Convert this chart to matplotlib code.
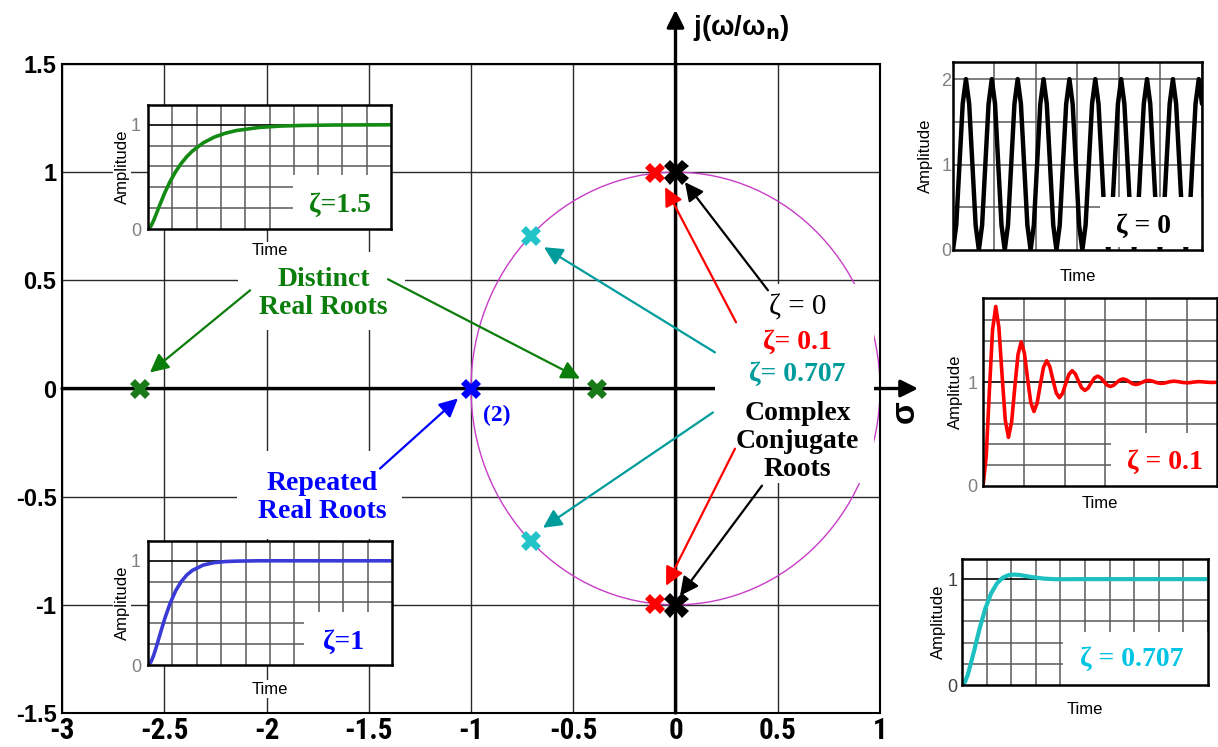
import numpy as np
import matplotlib
matplotlib.use("Agg")
import matplotlib.pyplot as plt
from matplotlib.patches import Rectangle, Circle
from matplotlib import font_manager

# ---------------- data ----------------
x_ticks = [-3, -2.5, -2, -1.5, -1, -0.5, 0, 0.5, 1]
x_tick_labels = ["-3", "-2.5", "-2", "-1.5", "-1", "-0.5", "0", "0.5", "1"]
y_ticks = [-1.5, -1, -0.5, 0, 0.5, 1, 1.5]
y_tick_labels = ["-1.5", "-1", "-0.5", "0", "0.5", "1", "1.5"]

# pole locations (real part, imaginary part) for each damping ratio
poles_z15_re = [-2.618, -0.382]
poles_z15_im = [0.0, 0.0]
poles_z1_re = [-1.0]
poles_z1_im = [0.0]
poles_z0707_re = [-0.707, -0.707]
poles_z0707_im = [0.707, -0.707]
poles_z01_re = [-0.1, -0.1]
poles_z01_im = [0.995, -0.995]
poles_z0_re = [0.0, 0.0]
poles_z0_im = [1.0, -1.0]

# step responses
t_z15 = [0, 0.25, 0.5, 0.75, 1, 1.5, 2, 2.5, 3, 3.5, 4, 5, 6, 7, 8, 10, 12, 14, 17, 22]
y_z15 = [0, 0.025, 0.079, 0.145, 0.213, 0.343, 0.456, 0.550, 0.628, 0.693, 0.746,
         0.827, 0.882, 0.919, 0.945, 0.974, 0.988, 0.994, 0.998, 1.0]

t_z1 = [0, 0.25, 0.5, 0.75, 1, 1.5, 2, 2.5, 3, 3.5, 4, 5, 6, 7, 8, 10, 22]
y_z1 = [0, 0.026, 0.090, 0.173, 0.264, 0.442, 0.594, 0.713, 0.801, 0.864, 0.908,
        0.960, 0.983, 0.993, 0.997, 1.0, 1.0]

t_z0707 = [0, 0.25, 0.5, 1, 1.5, 2, 2.5, 3, 3.5, 4, 4.5, 5, 6, 7, 8, 9, 10, 21.1]
y_z0707 = [0, 0.028, 0.098, 0.305, 0.529, 0.722, 0.866, 0.960, 1.014, 1.038, 1.043,
           1.038, 1.019, 1.005, 0.999, 0.999, 1.0, 1.0]

y_z01 = [0, 0.281, 0.914, 1.502, 1.729, 1.524, 1.063, 0.634,
         0.468, 0.618, 0.954, 1.267, 1.388, 1.279, 1.033, 0.805,
         0.717, 0.797, 0.976, 1.142, 1.206, 1.148, 1.018, 0.896,
         0.850, 0.892, 0.987, 1.075, 1.110, 1.079, 1.009, 0.945,
         0.920, 0.942, 0.993, 1.040, 1.058, 1.042, 1.005, 0.971,
         0.958, 0.969, 0.996, 1.021, 1.031, 1.022, 1.003, 0.984,
         0.977, 0.984, 0.998, 1.011, 1.017, 1.012, 1.001, 0.992,
         0.988, 0.991, 0.999, 1.006, 1.009, 1.006, 1.001, 0.996,
         0.994, 0.995, 1.000, 1.003, 1.005, 1.003, 1.000, 0.998,
         0.997, 0.998]
t_z01 = list(range(len(y_z01)))

y_z0 = [0, 0.29, 1, 1.71, 2, 1.71, 1, 0.29,
        0, 0.29, 1, 1.71, 2, 1.71, 1, 0.29,
        0, 0.29, 1, 1.71, 2, 1.71, 1, 0.29,
        0, 0.29, 1, 1.71, 2, 1.71, 1, 0.29,
        0, 0.29, 1, 1.71, 2, 1.71, 1, 0.29,
        0, 0.29, 1, 1.71, 2, 1.71, 1, 0.29,
        0, 0.29, 1, 1.71, 2, 1.71, 1, 0.29,
        0, 0.29, 1, 1.71, 2, 1.71, 1, 0.29,
        0, 0.29, 1, 1.71, 2, 1.71, 1, 0.29,
        0, 0.29, 1, 1.71, 2, 1.71]
t_z0 = list(range(len(y_z0)))

# ---------------- styling ----------------
SERIF = "Liberation Serif"
SANS = "Liberation Sans"
installed = {f.name for f in font_manager.fontManager.ttflist}
NARROW = next((n for n in ["Liberation Sans Narrow", "DejaVu Sans Condensed",
                           "Roboto Condensed", "Open Sans Condensed"]
               if n in installed), None)
GREEN = "#0a7d0a"
BLUE = "#0000ff"
RED = "#ff0000"
TEAL = "#009c9c"
CYAN_MK = "#22c4c8"

W, H = 1218, 747
fig = plt.figure(figsize=(W / 100, H / 100), dpi=100)
fig.patch.set_facecolor("white")


def add_px_axes(x0, y0, x1, y1):
    return fig.add_axes([x0 / W, 1 - y1 / H, (x1 - x0) / W, (y1 - y0) / H])


# ---------------- s-plane ----------------
ax = add_px_axes(62, 64, 880, 713)
ax.set_xlim(-3, 1)
ax.set_ylim(-1.5, 1.5)
ax.set_xticks(x_ticks)
ax.set_yticks(y_ticks)
if NARROW:
    ax.set_xticklabels(x_tick_labels, family=NARROW, weight="bold", fontsize=21)
else:
    ax.set_xticklabels(x_tick_labels, family=SANS, weight="bold", fontsize=18)
ax.set_yticklabels(y_tick_labels, family=SANS, weight="bold", fontsize=17)
ax.tick_params(axis="both", length=0)
ax.tick_params(axis="x", pad=3)
ax.tick_params(axis="y", pad=4)
ax.grid(True, color="#2a2a2a", lw=1.0, zorder=0)
ax.set_axisbelow(True)
for s in ax.spines.values():
    s.set_linewidth(1.5)

# unit circle
ax.add_patch(Circle((0, 0), 1, fill=False, ec="#c83cc8", lw=1.0, zorder=1.5))

# real and imaginary axes with arrow heads
for xy, xytext in [((1.186, 0), (-3, 0)), ((0, 1.75), (0, -1.5))]:
    a = ax.annotate("", xy=xy, xytext=xytext, annotation_clip=False,
                    arrowprops=dict(arrowstyle="-|>", color="black", lw=2.4,
                                    mutation_scale=26, shrinkA=0, shrinkB=0),
                    zorder=2)
    a.arrow_patch.set_clip_on(False)

ax.text(0.085, 1.665, r"j(ω/ω$_{\mathbf{n}}$)", fontsize=20, weight="bold",
        family=SANS, ha="left", va="center", clip_on=False)
ax.text(1.125, -0.105, "σ", fontsize=24, weight="bold", family=SANS,
        rotation=90, ha="center", va="center", clip_on=False)

# white boxes behind the annotation texts
for (bx0, by0, bx1, by1) in [(-2.139, 0.269, -1.322, 0.63),
                             (-2.144, -0.694, -1.337, -0.287),
                             (0.193, -0.435, 0.972, 0.481)]:
    ax.add_patch(Rectangle((bx0, by0), bx1 - bx0, by1 - by0, fc="white",
                           ec="none", zorder=3))

# annotation texts
ax.text(-1.722, 0.44, "Distinct\nReal Roots", color=GREEN, family=SERIF,
        weight="bold", fontsize=20, ha="center", va="center",
        linespacing=1.18, zorder=5)
ax.text(-1.726, -0.505, "Repeated\nReal Roots", color=BLUE, family=SERIF,
        weight="bold", fontsize=20, ha="center", va="center",
        linespacing=1.18, zorder=5)
ax.text(-0.873, -0.125, "(2)", color=BLUE, family=SERIF, weight="bold",
        fontsize=17, ha="center", va="center", zorder=5)

cx = 0.597
ax.text(cx, 0.375, "ζ = 0", color="black", family=SERIF, fontsize=21,
        ha="center", va="center", zorder=5)
ax.text(cx, 0.215, "ζ= 0.1", color=RED, family=SERIF, weight="bold",
        fontsize=20, ha="center", va="center", zorder=5)
ax.text(cx, 0.065, "ζ= 0.707", color=TEAL, family=SERIF, weight="bold",
        fontsize=20, ha="center", va="center", zorder=5)
ax.text(cx, -0.245, "Complex\nConjugate\nRoots", color="black", family=SERIF,
        weight="bold", fontsize=20, ha="center", va="center",
        linespacing=1.18, zorder=5)

# pointer arrows: (start, end, colour)
pointers = [((-2.08, 0.454), (-2.57, 0.074), GREEN),
            ((-1.406, 0.505), (-0.467, 0.046), GREEN),
            ((-1.445, -0.37), (-1.064, -0.046), BLUE),
            ((0.193, 0.167), (-0.643, 0.653), TEAL),
            ((0.183, -0.111), (-0.648, -0.644), TEAL),
            ((0.296, 0.306), (-0.051, 0.931), RED),
            ((0.291, -0.278), (-0.046, -0.912), RED),
            ((0.452, 0.454), (0.046, 0.954), "black"),
            ((0.423, -0.449), (0.022, -0.958), "black")]
for start, end, col in pointers:
    ax.annotate("", xy=end, xytext=start,
                arrowprops=dict(arrowstyle="-|>", color=col, lw=1.6,
                                mutation_scale=28, shrinkA=0, shrinkB=0),
                zorder=4)

# poles
mk = dict(marker="X", linestyle="none", zorder=6, markeredgewidth=0)
ax.plot(poles_z15_re, poles_z15_im, color="#1a7a1a", markersize=15, **mk)
ax.plot(poles_z1_re, poles_z1_im, color=BLUE, markersize=15, **mk)
ax.plot(poles_z0707_re, poles_z0707_im, color=CYAN_MK, markersize=15, **mk)
ax.plot(poles_z01_re, poles_z01_im, color=RED, markersize=15, **mk)
ax.plot(poles_z0_re, poles_z0_im, color="black", markersize=18, **mk)


# ---------------- step-response insets ----------------
def response_inset(box, t, y, color, lw, xlim, ylim, xgrid, ygrid, yticks,
                   black_one, label, lcolor, lbox, lpos, tick_pad, ylab_pad,
                   xlab_pad, tick_color="#808080", tick_fs=13, lab_fs=12):
    a = add_px_axes(*box)
    a.set_facecolor("white")
    a.set_xlim(*xlim)
    a.set_ylim(*ylim)
    for xv in xgrid:
        a.axvline(xv, color="#5a5a5a", lw=1.1, zorder=1)
    for yv in ygrid:
        a.axhline(yv, color="#5a5a5a", lw=1.1, zorder=1)
    if black_one:
        a.axhline(1, color="black", lw=1.2, zorder=1.2)
    a.plot(t, y, color=color, lw=lw, zorder=2, solid_joinstyle="round",
           solid_capstyle="round")
    a.add_patch(Rectangle(lbox[:2], lbox[2], lbox[3], transform=a.transAxes,
                          fc="white", ec="none", zorder=3))
    a.text(lpos[0], lpos[1], label, transform=a.transAxes, color=lcolor,
           family=SERIF, weight="bold", fontsize=20, ha="center",
           va="center", zorder=4)
    a.set_xticks([])
    a.set_yticks(yticks)
    a.set_yticklabels([f"{v:g}" for v in yticks], color=tick_color,
                      fontsize=tick_fs, family=SANS)
    a.tick_params(length=0, pad=tick_pad)
    a.set_ylabel("Amplitude", fontsize=lab_fs, family=SANS, labelpad=ylab_pad,
                 bbox=dict(fc="white", ec="none", pad=1))
    a.set_xlabel("Time", fontsize=lab_fs, family=SANS, labelpad=xlab_pad,
                 bbox=dict(fc="white", ec="none", pad=1))
    for s in a.spines.values():
        s.set_linewidth(1.8)
        s.set_zorder(5)
    return a


grid_02 = [0.2, 0.4, 0.6, 0.8]

response_inset((148, 105, 391, 229), t_z15, y_z15, "#138a13", 2.6,
               (0, 22), (0, 1.19), np.arange(2.2, 22, 2.2), grid_02, [0, 1],
               True, "ζ=1.5", GREEN, (0.597, 0.0, 0.403, 0.435), (0.79, 0.19),
               tick_pad=5, ylab_pad=1, xlab_pad=10)

response_inset((148, 541, 392, 665), t_z1, y_z1, "#3a3ad6", 2.6,
               (0, 22), (0, 1.19), np.arange(2.2, 22, 2.2), grid_02, [0, 1],
               True, "ζ=1", BLUE, (0.64, 0.0, 0.36, 0.43), (0.80, 0.185),
               tick_pad=5, ylab_pad=1, xlab_pad=12)

response_inset((953, 62, 1202, 250), t_z0, y_z0, "black", 3.2,
               (0, 77), (0, 2.2), np.arange(12.83, 77, 12.83),
               [0.5, 1.0, 1.5, 2.0], [0, 1, 2], False, "ζ = 0", "black",
               (0.59, 0.015, 0.41, 0.265), (0.765, 0.125),
               tick_pad=1, ylab_pad=6, xlab_pad=14)

response_inset((983, 298, 1217, 486), t_z01, y_z01, RED, 2.6,
               (0, 73.5), (0, 1.81), np.arange(12.8, 73.5, 12.8),
               [0.2, 0.4, 0.6, 0.8, 1.2, 1.4, 1.6], [0, 1], True, "ζ = 0.1",
               RED, (0.547, 0.0, 0.453, 0.28), (0.778, 0.125),
               tick_pad=4, ylab_pad=3, xlab_pad=7)

response_inset((962, 559, 1208, 685), t_z0707, y_z0707, "#1cc0c0", 3.0,
               (0, 21.1), (0, 1.19), np.arange(2.11, 21.1, 2.11), grid_02,
               [0, 1], True, "ζ = 0.707", "#00c4e4",
               (0.41, 0.0, 0.59, 0.42), (0.69, 0.2),
               tick_pad=3, ylab_pad=1, xlab_pad=12, tick_color="#404040")

fig.savefig("out.png", dpi=100, facecolor="white")
